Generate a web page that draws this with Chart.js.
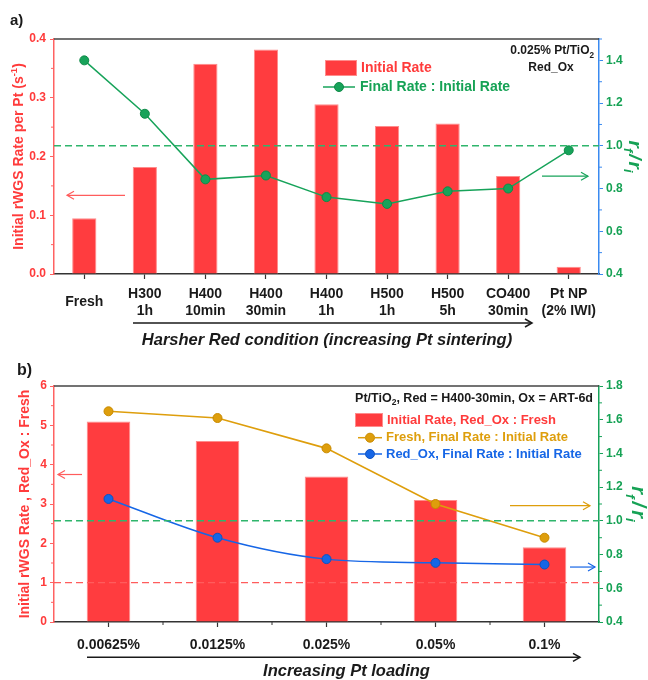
<!DOCTYPE html>
<html>
<head>
<meta charset="utf-8">
<script src="https://cdn.jsdelivr.net/npm/chart.js@4.4.1/dist/chart.umd.min.js"></script>
<style>
  html, body { margin: 0; padding: 0; background: #fff; }
  #wrap { position: relative; width: 648px; height: 680px; }
  canvas { position: absolute; left: 0; }
</style>
</head>
<body>
<div id="wrap">
  <canvas id="chartA" width="648" height="350" style="top:0"></canvas>
  <canvas id="chartB" width="648" height="330" style="top:350px"></canvas>
</div>
<script>
// ---- Panel a: reduction conditions on 0.025% Pt/TiO2 ----
const conditions = [['Fresh'], ['H300', '1h'], ['H400', '10min'], ['H400', '30min'], ['H400', '1h'],
                    ['H500', '1h'], ['H500', '5h'], ['CO400', '30min'], ['Pt NP', '(2% IWI)']];
const initialRate = [0.095, 0.182, 0.358, 0.382, 0.289, 0.252, 0.256, 0.167, 0.0125];
const finalToInitial = [1.40, 1.15, 0.843, 0.861, 0.76, 0.728, 0.787, 0.80, 0.979];
const rateTicksA = [0, 0.1, 0.2, 0.3, 0.4];
const rateMinorA = [0.05, 0.15, 0.25, 0.35];
const ratioTicksA = [0.4, 0.6, 0.8, 1.0, 1.2, 1.4];
const ratioMinorA = [0.5, 0.7, 0.9, 1.1, 1.3, 1.5];

// ---- Panel b: Pt loading series ----
const loadings = ['0.00625%', '0.0125%', '0.025%', '0.05%', '0.1%'];
const redOxToFresh = [5.10, 4.60, 3.70, 3.10, 1.90];
const freshRatio = [1.65, 1.61, 1.43, 1.10, 0.90];
const redOxRatio = [1.13, 0.90, 0.773, 0.751, 0.741];
const rateTicksB = [0, 1, 2, 3, 4, 5, 6];
const rateMinorB = [0.5, 1.5, 2.5, 3.5, 4.5, 5.5];
const ratioTicksB = [0.4, 0.6, 0.8, 1.0, 1.2, 1.4, 1.6, 1.8];
const ratioMinorB = [0.5, 0.7, 0.9, 1.1, 1.3, 1.5, 1.7];

// reference levels (ratio of 1 and rate ratio of 1)
const unityRatio = 1.0;
const unityRate = 1.0;

const FONT = "'Liberation Sans', Arial, Helvetica, sans-serif";
Chart.defaults.font.family = FONT;
Chart.defaults.font.weight = 'bold';
Chart.defaults.animation = false;

const RED = '#ff3c3f', RED_EDGE = '#ff8c8c', RED_AXIS = '#ff6262', RED_TEXT = '#ff3b3b', RED_ARROW = '#ff5c5c';
const GREEN = '#17a35a', GREEN_DARK = '#0f8a48', GREEN_TEXT = '#16a255', GREEN_DASH = '#2fb56c';
const BLUE_AXIS = '#3a8af0';
const ORANGE = '#de9e0c', BLUE = '#1666e6';
const DARK = '#1a1a1a';

function fixedTicks(values) {
  return scale => { scale.ticks = values.map(v => ({ value: v })); };
}
function fontStr(size, italic) {
  return (italic ? 'italic ' : '') + 'bold ' + size + 'px ' + FONT;
}
function seg(ctx, x1, y1, x2, y2, color, w, dash) {
  ctx.save();
  ctx.strokeStyle = color; ctx.lineWidth = w; ctx.setLineDash(dash || []);
  ctx.beginPath(); ctx.moveTo(x1, y1); ctx.lineTo(x2, y2); ctx.stroke();
  ctx.restore();
}
function arrow(ctx, x1, x2, y, color, w) {
  seg(ctx, x1, y, x2, y, color, w);
  const d = x2 > x1 ? 1 : -1;
  ctx.save();
  ctx.strokeStyle = color; ctx.lineWidth = w;
  ctx.beginPath();
  ctx.moveTo(x2 - d * 7, y - 4); ctx.lineTo(x2, y); ctx.lineTo(x2 - d * 7, y + 4);
  ctx.stroke();
  ctx.restore();
}
// text with sub/superscript parts and optional fixed gaps; y is the visual middle of the line
function rich(ctx, parts, x, y, size, color, align, italic) {
  ctx.save();
  ctx.fillStyle = color; ctx.textBaseline = 'alphabetic'; ctx.textAlign = 'left';
  const items = parts.map(p => {
    if (p.gap) return { p, s: size, w: p.gap };
    const s = (p.sub || p.sup) ? size * 0.68 : size;
    ctx.font = fontStr(s, italic);
    return { p, s, w: ctx.measureText(p.t).width };
  });
  const total = items.reduce((a, b) => a + b.w, 0);
  let cx = align === 'center' ? x - total / 2 : align === 'right' ? x - total : x;
  const base = y + size * 0.36;
  items.forEach(it => {
    if (!it.p.gap) {
      ctx.font = fontStr(it.s, italic);
      const dy = it.p.sub ? size * 0.27 : it.p.sup ? -size * 0.42 : 0;
      ctx.fillText(it.p.t, cx, base + dy);
    }
    cx += it.w;
  });
  ctx.restore();
}
function rotatedRich(ctx, parts, x, y, angle, size, color, italic) {
  ctx.save();
  ctx.translate(x, y); ctx.rotate(angle);
  rich(ctx, parts, 0, 0, size, color, 'center', italic);
  ctx.restore();
}
function ratioTitle(gap) {
  return [{ t: 'r' }, { t: 'f', sub: true }, { gap }, { t: '/' }, { gap }, { t: 'r' }, { t: 'i', sub: true }];
}
function minorTicks(ctx, scale, values, side, color, len) {
  ctx.save();
  ctx.strokeStyle = color; ctx.lineWidth = 1;
  values.forEach(v => {
    const p = scale.getPixelForValue(v);
    ctx.beginPath();
    if (side === 'left') { ctx.moveTo(scale.right, p); ctx.lineTo(scale.right - len, p); }
    else { ctx.moveTo(scale.left, p); ctx.lineTo(scale.left + len, p); }
    ctx.stroke();
  });
  ctx.restore();
}
function legendText(ctx, text, x, y, size, color) {
  ctx.save();
  ctx.font = fontStr(size); ctx.fillStyle = color;
  ctx.textAlign = 'left'; ctx.textBaseline = 'middle';
  ctx.fillText(text, x, y);
  ctx.restore();
}
function dot(ctx, x, y, r, fill, edge) {
  ctx.save();
  ctx.fillStyle = fill; ctx.strokeStyle = edge; ctx.lineWidth = 1;
  ctx.beginPath(); ctx.arc(x, y, r, 0, Math.PI * 2); ctx.fill(); ctx.stroke();
  ctx.restore();
}

// ---------------- Panel a ----------------
const decorA = {
  id: 'decorA',
  afterDatasetsDraw(chart) {
    const { ctx, chartArea: ca, scales: { y, y1 } } = chart;
    seg(ctx, ca.left, y1.getPixelForValue(unityRatio), ca.right, y1.getPixelForValue(unityRatio), GREEN_DASH, 1.5, [7, 4]);
    arrow(ctx, ca.left + 71, ca.left + 13, y.getPixelForValue(0.134), RED_ARROW, 1.2);
    arrow(ctx, ca.right - 57, ca.right - 11, y1.getPixelForValue(0.858), GREEN, 1.2);
  },
  afterDraw(chart) {
    const { ctx, chartArea: ca, scales: { y, y1 } } = chart;
    seg(ctx, ca.left, ca.top, ca.right, ca.top, '#444', 1.5);
    minorTicks(ctx, y, rateMinorA, 'left', RED_AXIS, 3);
    minorTicks(ctx, y1, ratioMinorA, 'right', BLUE_AXIS, 3);

    // axis titles
    rotatedRich(ctx, [{ t: 'Initial rWGS Rate per Pt (s' }, { t: '-1', sup: true }, { t: ')' }],
      18, (ca.top + ca.bottom) / 2, -Math.PI / 2, 14, RED_TEXT, false);
    rotatedRich(ctx, ratioTitle(2), 636, (ca.top + ca.bottom) / 2, Math.PI / 2, 19, GREEN_TEXT, true);

    // panel letter and sample note
    rich(ctx, [{ t: 'a)' }], 10, 20, 15, DARK, 'left');
    rich(ctx, [{ t: '0.025% Pt/TiO' }, { t: '2', sub: true }], 594, 50, 12, DARK, 'right');
    rich(ctx, [{ t: 'Red_Ox' }], 551, 67, 12, DARK, 'center');

    // legend
    ctx.save();
    ctx.fillStyle = RED; ctx.fillRect(325, 60, 32, 16);
    ctx.strokeStyle = RED_EDGE; ctx.lineWidth = 1; ctx.strokeRect(325.5, 60.5, 31, 15);
    ctx.restore();
    legendText(ctx, 'Initial Rate', 361, 68, 14, RED_TEXT);
    seg(ctx, 323, 87, 355, 87, GREEN, 1.5);
    dot(ctx, 339, 87, 4.5, GREEN, GREEN_DARK);
    legendText(ctx, 'Final Rate : Initial Rate', 360, 87, 14, GREEN_TEXT);

    // x-axis trend caption
    arrow(ctx, 133, 532, 323, DARK, 1.5);
    rich(ctx, [{ t: 'Harsher Red condition (increasing Pt sintering)' }], 327, 339, 16.5, DARK, 'center', true);
  }
};

new Chart(document.getElementById('chartA'), {
  type: 'bar',
  data: {
    labels: conditions,
    datasets: [
      {
        type: 'line', label: 'Final Rate : Initial Rate', data: finalToInitial, yAxisID: 'y1',
        borderColor: GREEN, backgroundColor: GREEN, borderWidth: 1.5,
        pointRadius: 4.5, pointBorderColor: GREEN_DARK, pointBorderWidth: 1, tension: 0, order: 0
      },
      {
        type: 'bar', label: 'Initial Rate', data: initialRate, yAxisID: 'y',
        backgroundColor: RED, borderColor: RED_EDGE, borderWidth: 1,
        barPercentage: 0.4, categoryPercentage: 1, order: 1
      }
    ]
  },
  options: {
    responsive: false,
    maintainAspectRatio: false,
    layout: { padding: { top: 39, left: 0, right: 0, bottom: 0 } },
    plugins: { legend: { display: false }, tooltip: { enabled: false } },
    scales: {
      x: {
        type: 'category', offset: true, z: 1,
        grid: { display: true, offset: false, drawOnChartArea: false, drawTicks: true, tickLength: 5, tickColor: '#333', tickWidth: 1.2 },
        border: { display: true, color: '#333', width: 1.5 },
        ticks: { color: DARK, font: { size: 14, weight: 'bold', lineHeight: 1.2 }, padding: 15, crossAlign: 'center', maxRotation: 0, autoSkip: false },
        afterFit: s => { s.height = 76; }
      },
      y: {
        position: 'left', min: 0, max: 0.4,
        afterBuildTicks: fixedTicks(rateTicksA),
        grid: { drawOnChartArea: false, tickLength: 4, tickColor: RED_AXIS },
        border: { color: RED_AXIS, width: 1.5 },
        ticks: { color: RED_TEXT, font: { size: 12, weight: 'bold' }, padding: 4, callback: v => v.toFixed(1) },
        afterFit: s => { s.width = 54; }
      },
      y1: {
        position: 'right', min: 0.4, max: 1.5,
        afterBuildTicks: fixedTicks(ratioTicksA),
        grid: { drawOnChartArea: false, tickLength: 4, tickColor: BLUE_AXIS },
        border: { color: BLUE_AXIS, width: 1.5 },
        ticks: { color: GREEN_TEXT, font: { size: 12, weight: 'bold' }, padding: 3, callback: v => v.toFixed(1) },
        afterFit: s => { s.width = 49; }
      }
    }
  },
  plugins: [decorA]
});

// ---------------- Panel b ----------------
const decorB = {
  id: 'decorB',
  afterDatasetsDraw(chart) {
    const { ctx, chartArea: ca, scales: { y, y1 } } = chart;
    seg(ctx, ca.left, y1.getPixelForValue(unityRatio), ca.right, y1.getPixelForValue(unityRatio), GREEN_DASH, 1.5, [7, 4]);
    seg(ctx, ca.left, y.getPixelForValue(unityRate), ca.right, y.getPixelForValue(unityRate), RED_ARROW, 1.3, [7, 4]);
    arrow(ctx, ca.left + 28, ca.left + 4, y.getPixelForValue(3.75), RED_ARROW, 1.2);
    arrow(ctx, ca.right - 89, ca.right - 9, y1.getPixelForValue(1.09), ORANGE, 1.2);
    arrow(ctx, ca.right - 29, ca.right - 4, y1.getPixelForValue(0.726), BLUE, 1.2);
  },
  afterDraw(chart) {
    const { ctx, chartArea: ca, scales: { x, y, y1 } } = chart;
    seg(ctx, ca.left, ca.top, ca.right, ca.top, '#444', 1.5);
    minorTicks(ctx, y, rateMinorB, 'left', RED_AXIS, 3);
    minorTicks(ctx, y1, ratioMinorB, 'right', GREEN, 3);
    // minor ticks between categories
    ctx.save();
    ctx.strokeStyle = '#333'; ctx.lineWidth = 1;
    for (let i = 0; i < loadings.length - 1; i++) {
      const px = (x.getPixelForValue(i) + x.getPixelForValue(i + 1)) / 2;
      ctx.beginPath(); ctx.moveTo(px, x.top); ctx.lineTo(px, x.top + 3); ctx.stroke();
    }
    ctx.restore();

    rotatedRich(ctx, ratioTitle(3), 639, (ca.top + ca.bottom) / 2, Math.PI / 2, 20, GREEN_TEXT, true);

    rich(ctx, [{ t: 'b)' }], 17, 19, 16, DARK, 'left');
    rich(ctx, [{ t: 'Pt/TiO' }, { t: '2', sub: true }, { t: ', Red = H400-30min, Ox = ART-6d' }], 593, 47, 12.5, DARK, 'right');

    // legend
    ctx.save();
    ctx.fillStyle = RED; ctx.fillRect(355, 63, 28, 14);
    ctx.strokeStyle = RED_EDGE; ctx.lineWidth = 1; ctx.strokeRect(355.5, 63.5, 27, 13);
    ctx.restore();
    legendText(ctx, 'Initial Rate, Red_Ox : Fresh', 387, 70, 13, RED_TEXT);
    [[ORANGE, '#c88a00', 'Fresh, Final Rate : Initial Rate', 87.7],
     [BLUE, '#0e52c0', 'Red_Ox, Final Rate : Initial Rate', 104]].forEach(([c, e, t, ly]) => {
      seg(ctx, 358, ly, 365, ly, c, 1.5);
      seg(ctx, 375, ly, 382, ly, c, 1.5);
      dot(ctx, 370, ly, 4.5, c, e);
      legendText(ctx, t, 386, ly, 13, c);
    });

    arrow(ctx, 87, 580, 307.3, DARK, 1.5);
    rich(ctx, [{ t: 'Increasing Pt loading' }], 346.5, 320, 16.5, DARK, 'center', true);
  }
};

new Chart(document.getElementById('chartB'), {
  type: 'bar',
  data: {
    labels: loadings,
    datasets: [
      {
        type: 'line', label: 'Fresh, Final Rate : Initial Rate', data: freshRatio, yAxisID: 'y1',
        borderColor: ORANGE, backgroundColor: ORANGE, borderWidth: 1.6,
        pointRadius: 4.5, pointBorderColor: '#c88a00', pointBorderWidth: 1, tension: 0, order: 0
      },
      {
        type: 'line', label: 'Red_Ox, Final Rate : Initial Rate', data: redOxRatio, yAxisID: 'y1',
        borderColor: BLUE, backgroundColor: BLUE, borderWidth: 1.5,
        pointRadius: 4.5, pointBorderColor: '#0e52c0', pointBorderWidth: 1,
        cubicInterpolationMode: 'monotone', order: 0
      },
      {
        type: 'bar', label: 'Initial Rate, Red_Ox : Fresh', data: redOxToFresh, yAxisID: 'y',
        backgroundColor: RED, borderColor: RED_EDGE, borderWidth: 1,
        barPercentage: 0.4, categoryPercentage: 1, order: 1
      }
    ]
  },
  options: {
    responsive: false,
    maintainAspectRatio: false,
    layout: { padding: { top: 36, left: 0, right: 0, bottom: 0 } },
    plugins: { legend: { display: false }, tooltip: { enabled: false } },
    scales: {
      x: {
        type: 'category', offset: true, z: 1,
        grid: { display: true, offset: false, drawOnChartArea: false, drawTicks: true, tickLength: 5, tickColor: '#333', tickWidth: 1.2 },
        border: { display: true, color: '#333', width: 1.5 },
        ticks: { color: DARK, font: { size: 14, weight: 'bold', lineHeight: 1.2 }, padding: 10, maxRotation: 0, autoSkip: false },
        afterFit: s => { s.height = 58; }
      },
      y: {
        position: 'left', min: 0, max: 6,
        afterBuildTicks: fixedTicks(rateTicksB),
        grid: { drawOnChartArea: false, tickLength: 4, tickColor: RED_AXIS },
        border: { color: RED_AXIS, width: 1.5 },
        ticks: { color: RED_TEXT, font: { size: 12, weight: 'bold' }, padding: 3, callback: v => String(v) },
        title: { display: true, text: 'Initial rWGS Rate , Red_Ox : Fresh', color: RED_TEXT, font: { size: 14, weight: 'bold' }, padding: { top: 17, bottom: 0 } },
        afterFit: s => { s.width = 54; }
      },
      y1: {
        position: 'right', min: 0.4, max: 1.8,
        afterBuildTicks: fixedTicks(ratioTicksB),
        grid: { drawOnChartArea: false, tickLength: 4, tickColor: GREEN },
        border: { color: GREEN, width: 1.5 },
        ticks: { color: GREEN_TEXT, font: { size: 12, weight: 'bold' }, padding: 3, callback: v => v.toFixed(1) },
        afterFit: s => { s.width = 49; }
      }
    }
  },
  plugins: [decorB]
});
</script>
</body>
</html>
